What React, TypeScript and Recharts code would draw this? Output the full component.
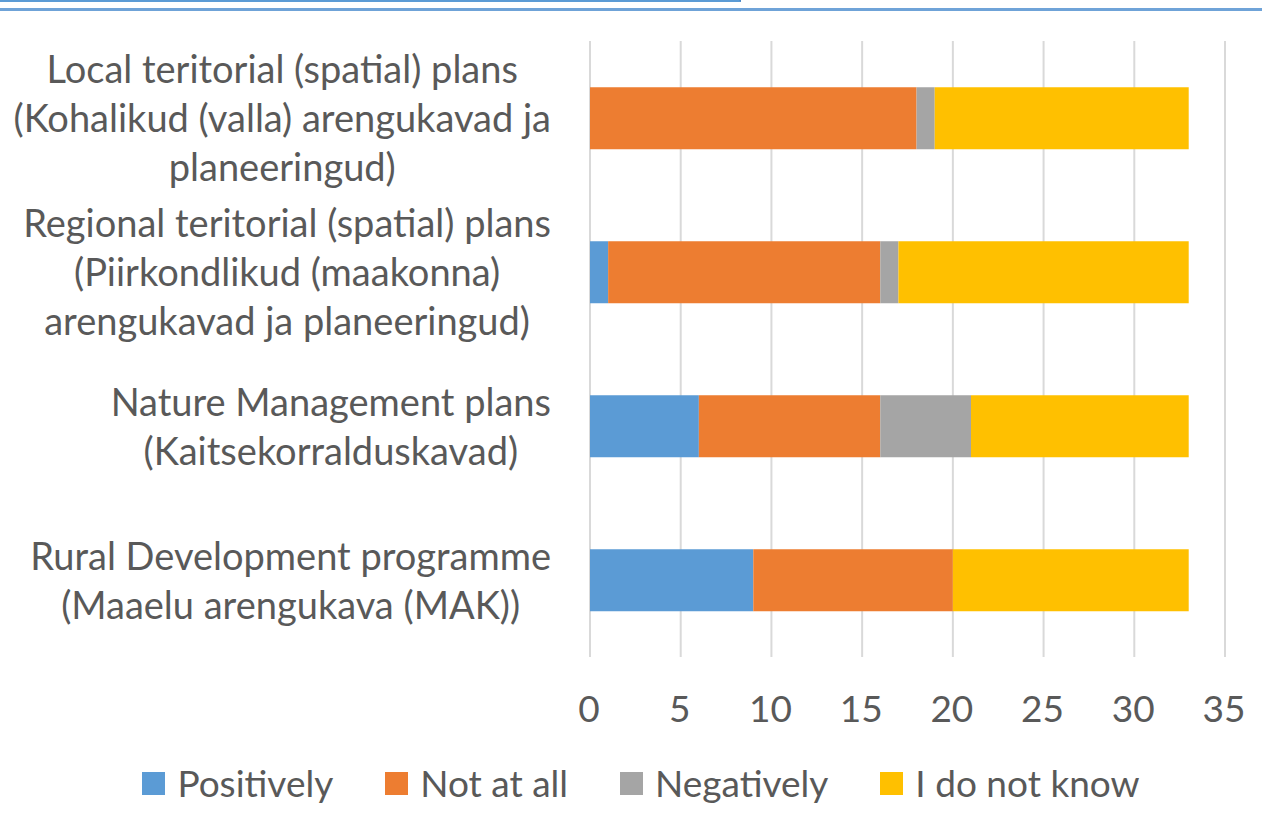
import React from "react";
import { BarChart, Bar, XAxis, YAxis, CartesianGrid, Legend } from "recharts";

const categoryLines: string[][] = [
  ["Local teritorial (spatial) plans", "(Kohalikud (valla) arengukavad ja", "planeeringud)"],
  ["Regional teritorial (spatial) plans", "(Piirkondlikud (maakonna)", "arengukavad ja planeeringud)"],
  ["Nature Management plans", "(Kaitsekorralduskavad)"],
  ["Rural Development programme", "(Maaelu arengukava (MAK))"],
];
const categories = ["Local", "Regional", "Nature", "Rural"];
const positively = [0, 1, 6, 9];
const notAtAll = [18, 15, 10, 11];
const negatively = [1, 1, 5, 0];
const doNotKnow = [14, 16, 12, 13];
const xTicks = [0, 5, 10, 15, 20, 25, 30, 35];
const seriesNames = ["Positively", "Not at all", "Negatively", "I do not know"];
const seriesColors = ["#5B9BD5", "#ED7D31", "#A5A5A5", "#FFC000"];

const data = categories.map((c, i) => ({
  name: c,
  pos: positively[i],
  not: notAtAll[i],
  neg: negatively[i],
  dnk: doNotKnow[i],
}));

const FONT = "Lato, 'Open Sans', sans-serif";
const FS_Y = 38;
const FS_X = 37;
const FS_L = 37;
const TEXT = "#595959";

let ctx: CanvasRenderingContext2D | null = null;
function measure(s: string): number {
  if (!ctx) {
    const c = document.createElement("canvas");
    ctx = c.getContext("2d");
  }
  if (!ctx) return s.length * FS_Y * 0.45;
  ctx.font = `${FS_Y}px Lato`;
  return ctx.measureText(s).width;
}

const YTick = (props: any) => {
  const { x, y, payload } = props;
  const idx = categories.indexOf(payload.value);
  const lines = categoryLines[idx] || [String(payload.value)];
  const w = Math.max(...lines.map(measure));
  const cx = x - 39 - w / 2;
  const lh = 49;
  const n = lines.length;
  return (
    <g>
      {lines.map((l, i) => (
        <text
          key={i}
          x={cx}
          y={y + (i - (n - 1) / 2) * lh - 1}
          textAnchor="middle"
          dominantBaseline="central"
          fill={TEXT}
          fontFamily={FONT}
          fontSize={FS_Y}
        >
          {l}
        </text>
      ))}
    </g>
  );
};

const XTick = (props: any) => {
  const { x, y, payload } = props;
  return (
    <text x={x - 1} y={y + 65} textAnchor="middle" fill={TEXT} fontFamily={FONT} fontSize={FS_X}>
      {payload.value}
    </text>
  );
};

const LegendContent = (props: any) => {
  const raw = props.payload || [];
  const payload = [...raw].sort(
    (a: any, b: any) => seriesNames.indexOf(a.value) - seriesNames.indexOf(b.value)
  );
  return (
    <div
      style={{
        display: "flex",
        justifyContent: "center",
        alignItems: "center",
        height: 40,
        paddingLeft: 20,
        fontFamily: FONT,
        fontSize: FS_L,
        color: TEXT,
      }}
    >
      {payload.map((p: any, i: number) => (
        <div key={i} style={{ display: "flex", alignItems: "center", marginRight: i < payload.length - 1 ? 52 : 0 }}>
          <div style={{ width: 23, height: 23, background: p.color, marginRight: 12 }} />
          <span style={{ lineHeight: "40px" }}>{p.value}</span>
        </div>
      ))}
    </div>
  );
};

export default function App() {
  return (
    <div style={{ position: "absolute", left: 0, top: 0, width: 1262, height: 828, background: "#fff", overflow: "hidden" }}>
      <div
        style={{
          position: "absolute",
          left: -4,
          top: -20,
          width: 745,
          height: 22,
          border: "2px solid #5B9BD5",
          borderRightColor: "#4A86C5",
          boxSizing: "border-box",
        }}
      />
      <div style={{ position: "absolute", left: 0, top: 8, width: 1262, height: 3, background: "#6FA3D8" }} />
      <div style={{ position: "absolute", left: 0, top: 0 }}>
        <BarChart
          width={1262}
          height={828}
          data={data}
          layout="vertical"
          margin={{ top: 41, right: 37, left: 0, bottom: 67 }}
          barCategoryGap="30%"
        >
          <CartesianGrid horizontal={false} vertical={true} stroke="#D9D9D9" strokeWidth={2} />
          <XAxis
            type="number"
            domain={[0, 35]}
            ticks={xTicks}
            axisLine={false}
            tickLine={false}
            tickSize={0}
            tickMargin={0}
            height={64}
            tick={<XTick />}
            interval={0}
          />
          <YAxis
            type="category"
            dataKey="name"
            width={590}
            axisLine={false}
            tickLine={false}
            tickSize={0}
            tickMargin={0}
            tick={<YTick />}
            interval={0}
          />
          <Legend
            verticalAlign="bottom"
            content={<LegendContent />}
            wrapperStyle={{ left: 0, width: 1262, bottom: 25 }}
          />
          <Bar dataKey="pos" name={seriesNames[0]} stackId="a" fill={seriesColors[0]} isAnimationActive={false} />
          <Bar dataKey="not" name={seriesNames[1]} stackId="a" fill={seriesColors[1]} isAnimationActive={false} />
          <Bar dataKey="neg" name={seriesNames[2]} stackId="a" fill={seriesColors[2]} isAnimationActive={false} />
          <Bar dataKey="dnk" name={seriesNames[3]} stackId="a" fill={seriesColors[3]} isAnimationActive={false} />
        </BarChart>
      </div>
    </div>
  );
}
